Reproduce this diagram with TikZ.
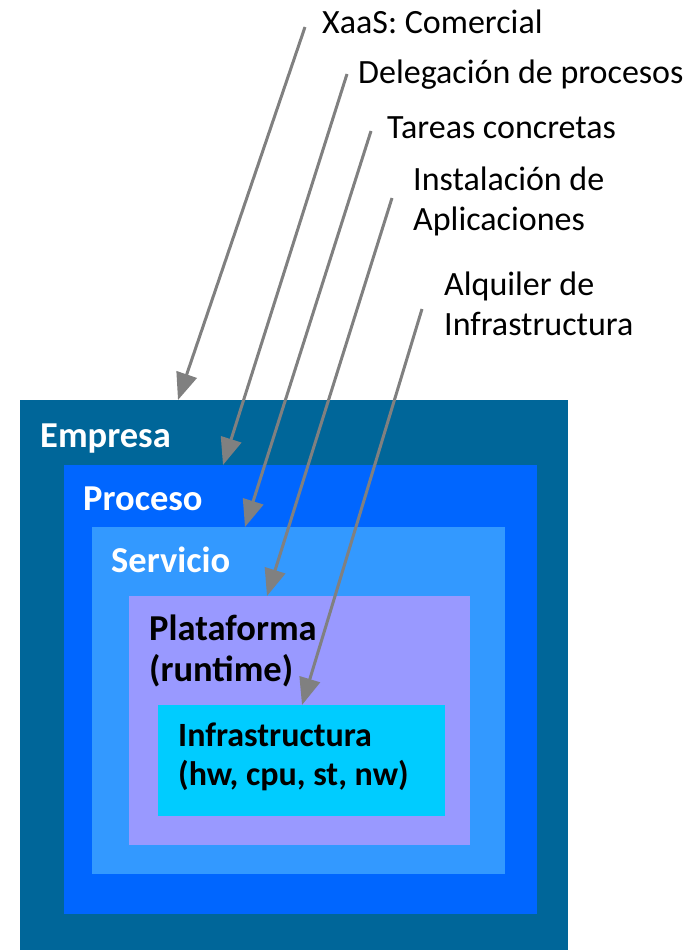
\documentclass[tikz,border=0pt]{standalone}
\usepackage{fontspec}
\setmainfont{Carlito}
\usetikzlibrary{arrows.meta}
\definecolor{cEmp}{HTML}{006699}
\definecolor{cProc}{HTML}{0066FF}
\definecolor{cServ}{HTML}{3399FF}
\definecolor{cPlat}{HTML}{9999FF}
\definecolor{cInfra}{HTML}{00CCFF}
\definecolor{cArrow}{HTML}{808080}
\tikzset{
  layer/.style={rectangle, inner sep=0pt, outer sep=0pt, anchor=north west},
  % for multi-line nodes the base anchor sits on the last line
  ltitle/.style={anchor=base west, inner sep=0pt, align=left,
    font=\fontsize{36.5}{41}\selectfont\bfseries},
  tag/.style={anchor=base west, inner sep=0pt, align=left,
    font=\fontsize{34}{40}\selectfont},
  pointer/.style={draw=cArrow, line width=3pt,
    -{Triangle[length=27pt, width=21pt]}},
}
\begin{document}
\begin{tikzpicture}[x=1pt, y=-1pt]
  \useasboundingbox (0,0) rectangle (691,950);

  % nested service layers
  \node[layer, fill=cEmp,   minimum width=548pt, minimum height=550pt] (emp)   at (20,400) {};
  \node[layer, fill=cProc,  minimum width=473pt, minimum height=449pt] (proc)  at (64,465) {};
  \node[layer, fill=cServ,  minimum width=413pt, minimum height=347pt] (serv)  at (92,527) {};
  \node[layer, fill=cPlat,  minimum width=341pt, minimum height=249pt] (plat)  at (129,596) {};
  \node[layer, fill=cInfra, minimum width=287pt, minimum height=111pt] (infra) at (158,705) {};

  % layer titles
  \node[ltitle, text=white] (tEmp)  at (40,447)  {Empresa};
  \node[ltitle, text=white] (tProc) at (83,510)  {Proceso};
  \node[ltitle, text=white] (tServ) at (111,572) {Servicio};
  \node[ltitle] (tPlat)  at (149,681) {Plataforma\\(runtime)};
  \node[ltitle, font=\fontsize{34}{38.5}\selectfont\bfseries] (tInfra) at (178,785)
    {Infrastructura\\(hw, cpu, st, nw)};

  % outside labels
  \node[tag] (lXaaS)  at (322,34)  {XaaS: Comercial};
  \node[tag] (lDeleg) at (358,83)  {Delegación de procesos};
  \node[tag] (lTask)  at (387,138) {Tareas concretas};
  \node[tag] (lInst)  at (413,230) {Instalación de\\Aplicaciones};
  \node[tag] (lRent)  at (444,335) {Alquiler de\\Infrastructura};

  % arrow start points next to the labels
  \coordinate (s1) at (305,27);
  \coordinate (s2) at (347,74);
  \coordinate (s3) at (371,131);
  \coordinate (s4) at (392,198);
  \coordinate (s5) at (422,309);

  % arrows down to the top edge of each layer
  \draw[pointer] (s1) -- ([xshift=158pt]emp.north west);
  \draw[pointer] (s2) -- ([xshift=159pt]proc.north west);
  \draw[pointer] (s3) -- ([xshift=153pt]serv.north west);
  \draw[pointer] (s4) -- ([xshift=138pt]plat.north west);
  \draw[pointer] (s5) -- ([xshift=144pt]infra.north west);
\end{tikzpicture}
\end{document}
